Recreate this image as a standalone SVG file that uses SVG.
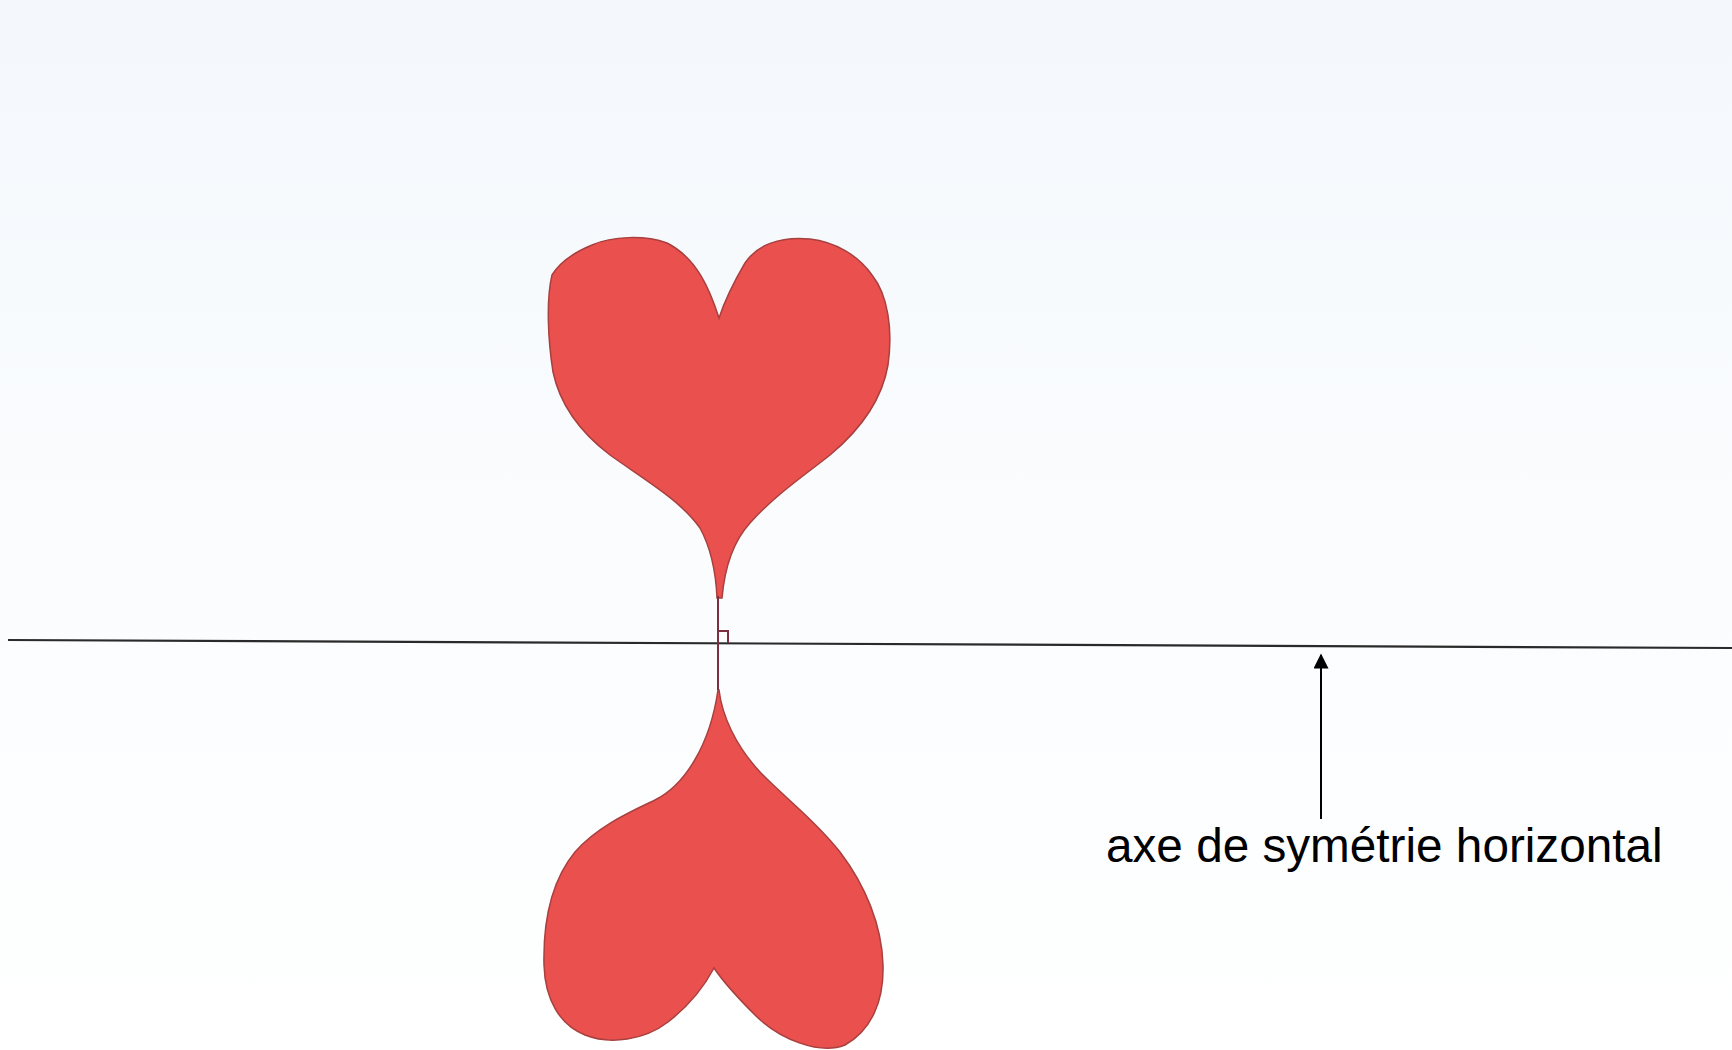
<svg xmlns="http://www.w3.org/2000/svg" width="1732" height="1050" viewBox="0 0 1732 1050">
<defs>
<linearGradient id="bg" x1="0" y1="0" x2="0" y2="1">
<stop offset="0" stop-color="#f4f8fc"/>
<stop offset="0.5" stop-color="#fafcfe"/>
<stop offset="1" stop-color="#ffffff"/>
</linearGradient>
<marker id="ah" viewBox="0 0 10 10" refX="9" refY="5" markerWidth="8" markerHeight="7.5" markerUnits="strokeWidth" orient="auto">
<path d="M0,0 L10,5 L0,10 Z" fill="#000"/>
</marker>
<style>
.heart{fill:#e9504e;stroke:#a8403f;stroke-width:1.5;}
.axis{stroke:#2a2a2a;stroke-width:2.2;fill:none;}
.seg{stroke:#7a3040;stroke-width:2;fill:none;}
.lbl{font-family:"Liberation Sans",Arial,sans-serif;font-size:47.7px;fill:#000;}
</style>
</defs>
<rect width="1732" height="1050" fill="url(#bg)"/>
<g id="top-heart">
<path class="heart" d="M 719 318 C 710 290, 697 258, 667 243 C 645 235, 612 236, 592 245 C 575 252, 560 262, 552 275 C 546 300, 548 340, 553 372 C 560 405, 580 432, 610 455 C 645 480, 680 500, 700 528 C 712 550, 716 575, 717 598 L 722 598 C 724 575, 730 545, 750 523 C 775 495, 805 475, 830 455 C 860 430, 882 400, 888 365 C 893 330, 888 295, 872 275 C 858 255, 835 242, 810 239 C 780 236, 757 245, 745 263 C 735 280, 725 300, 719 318 Z"/>
</g>
<g id="bottom-heart">
<path class="heart" d="M 719 690 C 722 715, 735 745, 760 772 C 785 798, 815 820, 840 852 C 865 885, 882 925, 883 965 C 884 1000, 872 1030, 845 1045 C 820 1055, 780 1040, 755 1015 C 735 995, 722 980, 714 968 C 705 985, 690 1005, 668 1022 C 645 1040, 610 1045, 585 1035 C 560 1025, 545 1000, 544 965 C 543 920, 552 880, 575 852 C 598 826, 630 812, 655 800 C 685 785, 710 745, 718 690 Z"/>
</g>
<g id="axis">
<line class="axis" x1="8" y1="640" x2="1732" y2="648"/>
<path class="seg" d="M 718 596 L 718 690"/>
<path class="seg" stroke-width="1.3" d="M 718 631 L 728 631 L 728 643"/>
</g>
<g id="connectors">
<line x1="1321" y1="819" x2="1321" y2="655" stroke="#000" stroke-width="2" marker-end="url(#ah)"/>
</g>
<g id="label">
<text class="lbl" x="1106" y="862">axe de symétrie horizontal</text>
</g>
</svg>
